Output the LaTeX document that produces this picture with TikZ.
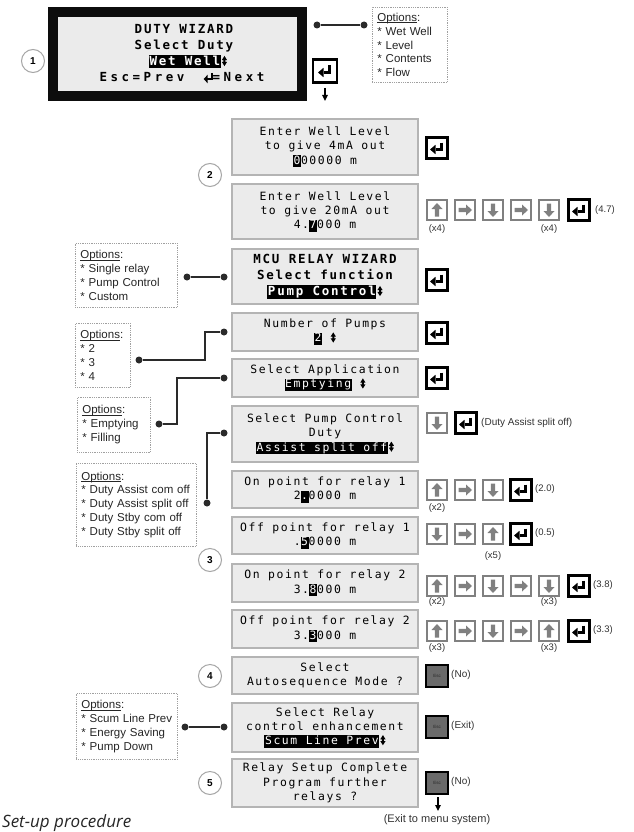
\documentclass[tikz,border=0pt]{standalone}
\usepackage{fontspec}
\setmainfont{Liberation Sans}
\newfontfamily\lcdfont[LetterSpace=14]{DejaVu Sans Mono}
\newfontfamily\lcdwide[LetterSpace=28]{DejaVu Sans Mono}
\newfontfamily\capfont{Open Sans}
\usetikzlibrary{arrows.meta}
\definecolor{lcdbg}{HTML}{EBEBEB}
\definecolor{lcdedge}{HTML}{B4B4B4}
\definecolor{keygrey}{HTML}{808080}
\definecolor{optedge}{HTML}{A0A0A0}
\definecolor{conncol}{HTML}{2A2A2A}
\definecolor{esccol}{HTML}{6A6A6A}
\newcommand{\hl}[1]{{\setlength{\fboxsep}{0.6pt}\colorbox{black}{\color{white}\rule[-2.4pt]{0pt}{10pt}#1}}}
\newcommand{\udarr}{\tikz[x=1pt,y=1pt,baseline=-1pt]{\fill[black] (-2.6,4.4)--(0,8.6)--(2.6,4.4)--(1,4.4)--(1,2.6)--(2.6,2.6)--(0,-1.6)--(-2.6,2.6)--(-1,2.6)--(-1,4.4)--cycle;}}
\newcommand{\entglyph}{\tikz[x=1pt,y=1pt,baseline=0pt]{\draw[line width=2pt] (8,8.5)--(8,2.5)--(3.5,2.5); \fill (0,2.5)--(4,6.8)--(4,-1.8)--cycle;}}
\newcommand{\bl}{{*}\ }
\newsavebox{\optbox}
\newcommand{\opthead}{\sbox{\optbox}{Options}\rlap{\rule[-1.6pt]{\wd\optbox}{0.6pt}}\usebox{\optbox}:}
\tikzset{
  lcd/.style={draw=lcdedge, fill=lcdbg, line width=1.6pt, minimum width=186pt, inner sep=0pt, align=center,
    font={\lcdfont\fontsize{11.4}{14.3}\selectfont}, text=black},
  lcdbig/.style={font={\lcdfont\bfseries\fontsize{12.5}{16}\selectfont}},
  bigtxt/.style={inner sep=0pt, anchor=base, font={\lcdfont\bfseries\fontsize{12.5}{15}\selectfont}, text=black},
  optbox/.style={draw=optedge, densely dotted, line width=0.8pt, fill=white, align=left, inner xsep=5pt, inner ysep=0pt,
    anchor=north west, font={\fontsize{11.5}{13.9}\selectfont}, text=black!85},
  stepc/.style={circle, draw=gray!70, line width=1pt, fill=white, minimum size=23pt, inner sep=0pt,
    font={\bfseries\fontsize{10}{12}\selectfont}},
  smalltxt/.style={inner sep=0pt, font={\fontsize{9.5}{11}\selectfont}, text=black!80},
  dotn/.style={circle, fill=conncol, inner sep=0pt, minimum size=7pt},
  conn/.style={draw=conncol, line width=1.2pt},
  kbase/.style={minimum width=20pt, minimum height=20pt, inner sep=0pt, fill=white},
  arrk/.style={kbase, draw=keygrey, line width=1.8pt},
  upk/.style={arrk, path picture={\begin{scope}[shift={(path picture bounding box.center)}]
     \fill[keygrey] (0,-7)--(-5.5,-1)--(-2.2,-1)--(-2.2,6.5)--(2.2,6.5)--(2.2,-1)--(5.5,-1)--cycle;\end{scope}}},
  downk/.style={arrk, path picture={\begin{scope}[shift={(path picture bounding box.center)}]
     \fill[keygrey] (0,7)--(-5.5,1)--(-2.2,1)--(-2.2,-6.5)--(2.2,-6.5)--(2.2,1)--(5.5,1)--cycle;\end{scope}}},
  rightk/.style={arrk, path picture={\begin{scope}[shift={(path picture bounding box.center)}]
     \fill[keygrey] (7,0)--(1,-5.5)--(1,-2.2)--(-6.5,-2.2)--(-6.5,2.2)--(1,2.2)--(1,5.5)--cycle;\end{scope}}},
  enterk/.style={kbase, minimum width=21pt, minimum height=21pt, draw=black, line width=2.2pt,
    path picture={\begin{scope}[shift={(path picture bounding box.center)}]
     \draw[black, line width=2.2pt] (4.5,-5.5)--(4.5,1.5)--(-1.5,1.5);
     \fill[black] (-7,1.5)--(-1.5,-3.2)--(-1.5,6.2)--cycle;\end{scope}}},
  esck/.style={kbase, minimum width=22pt, minimum height=22pt, draw=black, line width=2pt, fill=esccol,
    font={\fontsize{4.5}{5}\selectfont}, text=black!85},
  arr/.style={draw=black, line width=1.3pt, -{Triangle[length=6pt,width=5.5pt]}}
}
\begin{document}
\begin{tikzpicture}[x=1pt,y=-1pt]
\fill[white] (0,0) rectangle (633,832);
\useasboundingbox (0,0) rectangle (633,832);

% ---------- dots and connectors ----------
\node[dotn] (d1a) at (317,25) {};
\node[dotn] (d1b) at (364,25) {};
\node[dotn] (d2a) at (187,277) {};
\node[dotn] (d2b) at (224,277) {};
\node[dotn] (d3a) at (139,360) {};
\node[dotn] (d3b) at (224,332) {};
\node[dotn] (d4a) at (159,424) {};
\node[dotn] (d4b) at (224,378) {};
\node[dotn] (d5a) at (224,433) {};
\node[dotn] (d5b) at (207,503) {};
\node[dotn] (d6a) at (185,727) {};
\node[dotn] (d6b) at (224,727) {};
\draw[conn] (d1a) -- (d1b);
\draw[conn] (d2a) -- (d2b);
\draw[conn] (d3a) -- (205,360) |- (d3b);
\draw[conn] (d4a) -- (177,424) |- (d4b);
\draw[conn] (d5a) -| (d5b);
\draw[conn] (d6a) -- (d6b);

% ---------- step 1 ----------
\node[draw=black!95, line width=10pt, fill=lcdbg, minimum width=249.5pt, minimum height=84pt, inner sep=0pt] (top) at (177.5,54) {};
\node[bigtxt] (t1) at (184,33.5) {DUTY WIZARD};
\node[bigtxt] (t2) at (184,49.5) {Select Duty};
\node[bigtxt] (t3) at (188,65.5) {\hl{Wet Well}\kern1pt\udarr};
\node[bigtxt, font={\lcdwide\bfseries\fontsize{12.5}{15}\selectfont}] (t4) at (142,81.5) {Esc=Prev};
\node[bigtxt, font={\lcdwide\bfseries\fontsize{12.5}{15}\selectfont}] (t5) at (234,81.5) {\entglyph=Next};
\node[stepc] (s1) at (33,61) {1};
\node[enterk, minimum width=24pt, minimum height=23pt] (e1) at (325,71) {};
\coordinate (a1s) at (325,88);
\coordinate (a1e) at (325,101);
\draw[arr] (a1s) -- (a1e);
\node[optbox, text width=65pt, minimum height=75pt] (o1) at (372,7)
  {\opthead\\\bl Wet Well\\\bl Level\\\bl Contents\\\bl Flow};

% ---------- step 2 ----------
\node[lcd, minimum height=56pt] (b2a) at (325,147) {Enter Well Level\\to give 4mA out\\\hl{0}00000 m};
\node[enterk] (e2a) at (437,148) {};
\node[stepc] (s2) at (210,175) {2};
\node[lcd, minimum height=55pt] (b2b) at (325,211.5) {Enter Well Level\\to give 20mA out\\4.\hl{7}000 m};
\node[upk] (k2b1) at (437,210) {};
\node[rightk] (k2b2) at (465,210) {};
\node[downk] (k2b3) at (493,210) {};
\node[rightk] (k2b4) at (521,210) {};
\node[downk] (k2b5) at (549,210) {};
\node[enterk] (k2b6) at (579,210) {};
\node[smalltxt, anchor=west] (n2b) at (595,210) {(4.7)};
\node[smalltxt] (x2b1) at (437,229) {(x4)};
\node[smalltxt] (x2b5) at (549,229) {(x4)};

% ---------- relay wizard ----------
\node[lcd, lcdbig, minimum height=55pt] (mcu) at (325,276.5) {MCU RELAY WIZARD\\Select function\\\hl{Pump Control}\kern1pt\udarr};
\node[enterk] (emcu) at (437,280) {};
\node[optbox, text width=92pt, minimum height=64pt] (o2) at (75,243)
  {\opthead\\\bl Single relay\\\bl Pump Control\\\bl Custom};

\node[lcd, minimum height=38pt] (pumps) at (325,332) {Number of Pumps\\\hl{2} \udarr};
\node[enterk] (epumps) at (437,333) {};
\node[optbox, text width=45pt, minimum height=64pt] (o3) at (75,323)
  {\opthead\\\bl 2\\\bl 3\\\bl 4};

\node[lcd, minimum height=38pt] (app) at (325,378) {Select Application\\\hl{Emptying} \udarr};
\node[enterk] (eapp) at (437,378) {};
\node[optbox, text width=63pt, minimum height=55pt] (o4) at (77,397)
  {\opthead\\\bl Emptying\\\bl Filling};

\node[lcd, minimum height=56pt] (duty) at (325,434) {Select Pump Control\\Duty\\\hl{Assist split off}\kern1pt\udarr};
\node[downk] (kd1) at (437,423) {};
\node[enterk] (kd2) at (466,423) {};
\node[smalltxt, anchor=west, font={\fontsize{10}{12}\selectfont}] (nd) at (481,423) {(Duty Assist split off)};
\node[optbox, text width=110pt, minimum height=83pt] (o5) at (76,463)
  {\opthead\\\bl Duty Assist com off\\\bl Duty Assist split off\\\bl Duty Stby com off\\\bl Duty Stby split off};

% ---------- step 3 ----------
\node[lcd, minimum height=37pt] (r1on) at (325,489.5) {On point for relay 1\\2\hl{.}0000 m};
\node[upk] (k31) at (437,490) {};
\node[rightk] (k32) at (465,490) {};
\node[downk] (k33) at (493,490) {};
\node[enterk] (k34) at (521,490) {};
\node[smalltxt, anchor=west] (n31) at (535,489) {(2.0)};
\node[smalltxt] (x31) at (437,508) {(x2)};

\node[lcd, minimum height=37pt] (r1off) at (325,535.5) {Off point for relay 1\\.\hl{5}0000 m};
\node[downk] (k41) at (437,534) {};
\node[rightk] (k42) at (465,534) {};
\node[upk] (k43) at (493,534) {};
\node[enterk] (k44) at (521,534) {};
\node[smalltxt, anchor=west] (n41) at (535,533) {(0.5)};
\node[smalltxt] (x43) at (493,556) {(x5)};
\node[stepc] (s3) at (210,560) {3};

\node[lcd, minimum height=38pt] (r2on) at (325,583) {On point for relay 2\\3.\hl{8}000 m};
\node[upk] (k51) at (437,586) {};
\node[rightk] (k52) at (465,586) {};
\node[downk] (k53) at (493,586) {};
\node[rightk] (k54) at (521,586) {};
\node[downk] (k55) at (549,586) {};
\node[enterk] (k56) at (579,586) {};
\node[smalltxt, anchor=west] (n51) at (593,585) {(3.8)};
\node[smalltxt] (x51) at (437,602) {(x2)};
\node[smalltxt] (x55) at (549,602) {(x3)};

\node[lcd, minimum height=38pt] (r2off) at (325,629) {Off point for relay 2\\3.\hl{3}000 m};
\node[upk] (k61) at (437,631) {};
\node[rightk] (k62) at (465,631) {};
\node[downk] (k63) at (493,631) {};
\node[rightk] (k64) at (521,631) {};
\node[upk] (k65) at (549,631) {};
\node[enterk] (k66) at (579,631) {};
\node[smalltxt, anchor=west] (n61) at (593,630) {(3.3)};
\node[smalltxt] (x61) at (437,648) {(x3)};
\node[smalltxt] (x65) at (549,648) {(x3)};

% ---------- step 4 ----------
\node[lcd, minimum height=37pt] (auto) at (325,675.5) {Select\\Autosequence Mode ?};
\node[stepc] (s4) at (210,676) {4};
\node[esck] (esc1) at (437,676) {Esc};
\node[smalltxt, anchor=west, font={\fontsize{10}{12}\selectfont}] (n71) at (451,675) {(No)};

\node[lcd, minimum height=49pt] (enh) at (325,727.5) {Select Relay\\control enhancement\\\hl{Scum Line Prev}\kern1pt\udarr};
\node[esck] (esc2) at (437,727) {Esc};
\node[smalltxt, anchor=west, font={\fontsize{10}{12}\selectfont}] (n81) at (451,726) {(Exit)};
\node[optbox, text width=91pt, minimum height=66pt] (o6) at (76,693)
  {\opthead\\\bl Scum Line Prev\\\bl Energy Saving\\\bl Pump Down};

% ---------- step 5 ----------
\node[lcd, minimum height=48pt] (done) at (325,783) {Relay Setup Complete\\Program further\\relays ?};
\node[stepc] (s5) at (210,783) {5};
\node[esck] (esc3) at (437,783) {Esc};
\node[smalltxt, anchor=west, font={\fontsize{10}{12}\selectfont}] (n91) at (451,782) {(No)};
\coordinate (a2s) at (438,797);
\coordinate (a2e) at (438,811);
\draw[arr] (a2s) -- (a2e);
\node[smalltxt, font={\fontsize{11}{13}\selectfont}] (exitt) at (437,820) {(Exit to menu system)};

\node[inner sep=0pt, anchor=base west, font={\capfont\itshape\fontsize{17}{20}\selectfont}, text=black!85] (cap) at (2,827) {Set-up procedure};
\end{tikzpicture}
\end{document}
